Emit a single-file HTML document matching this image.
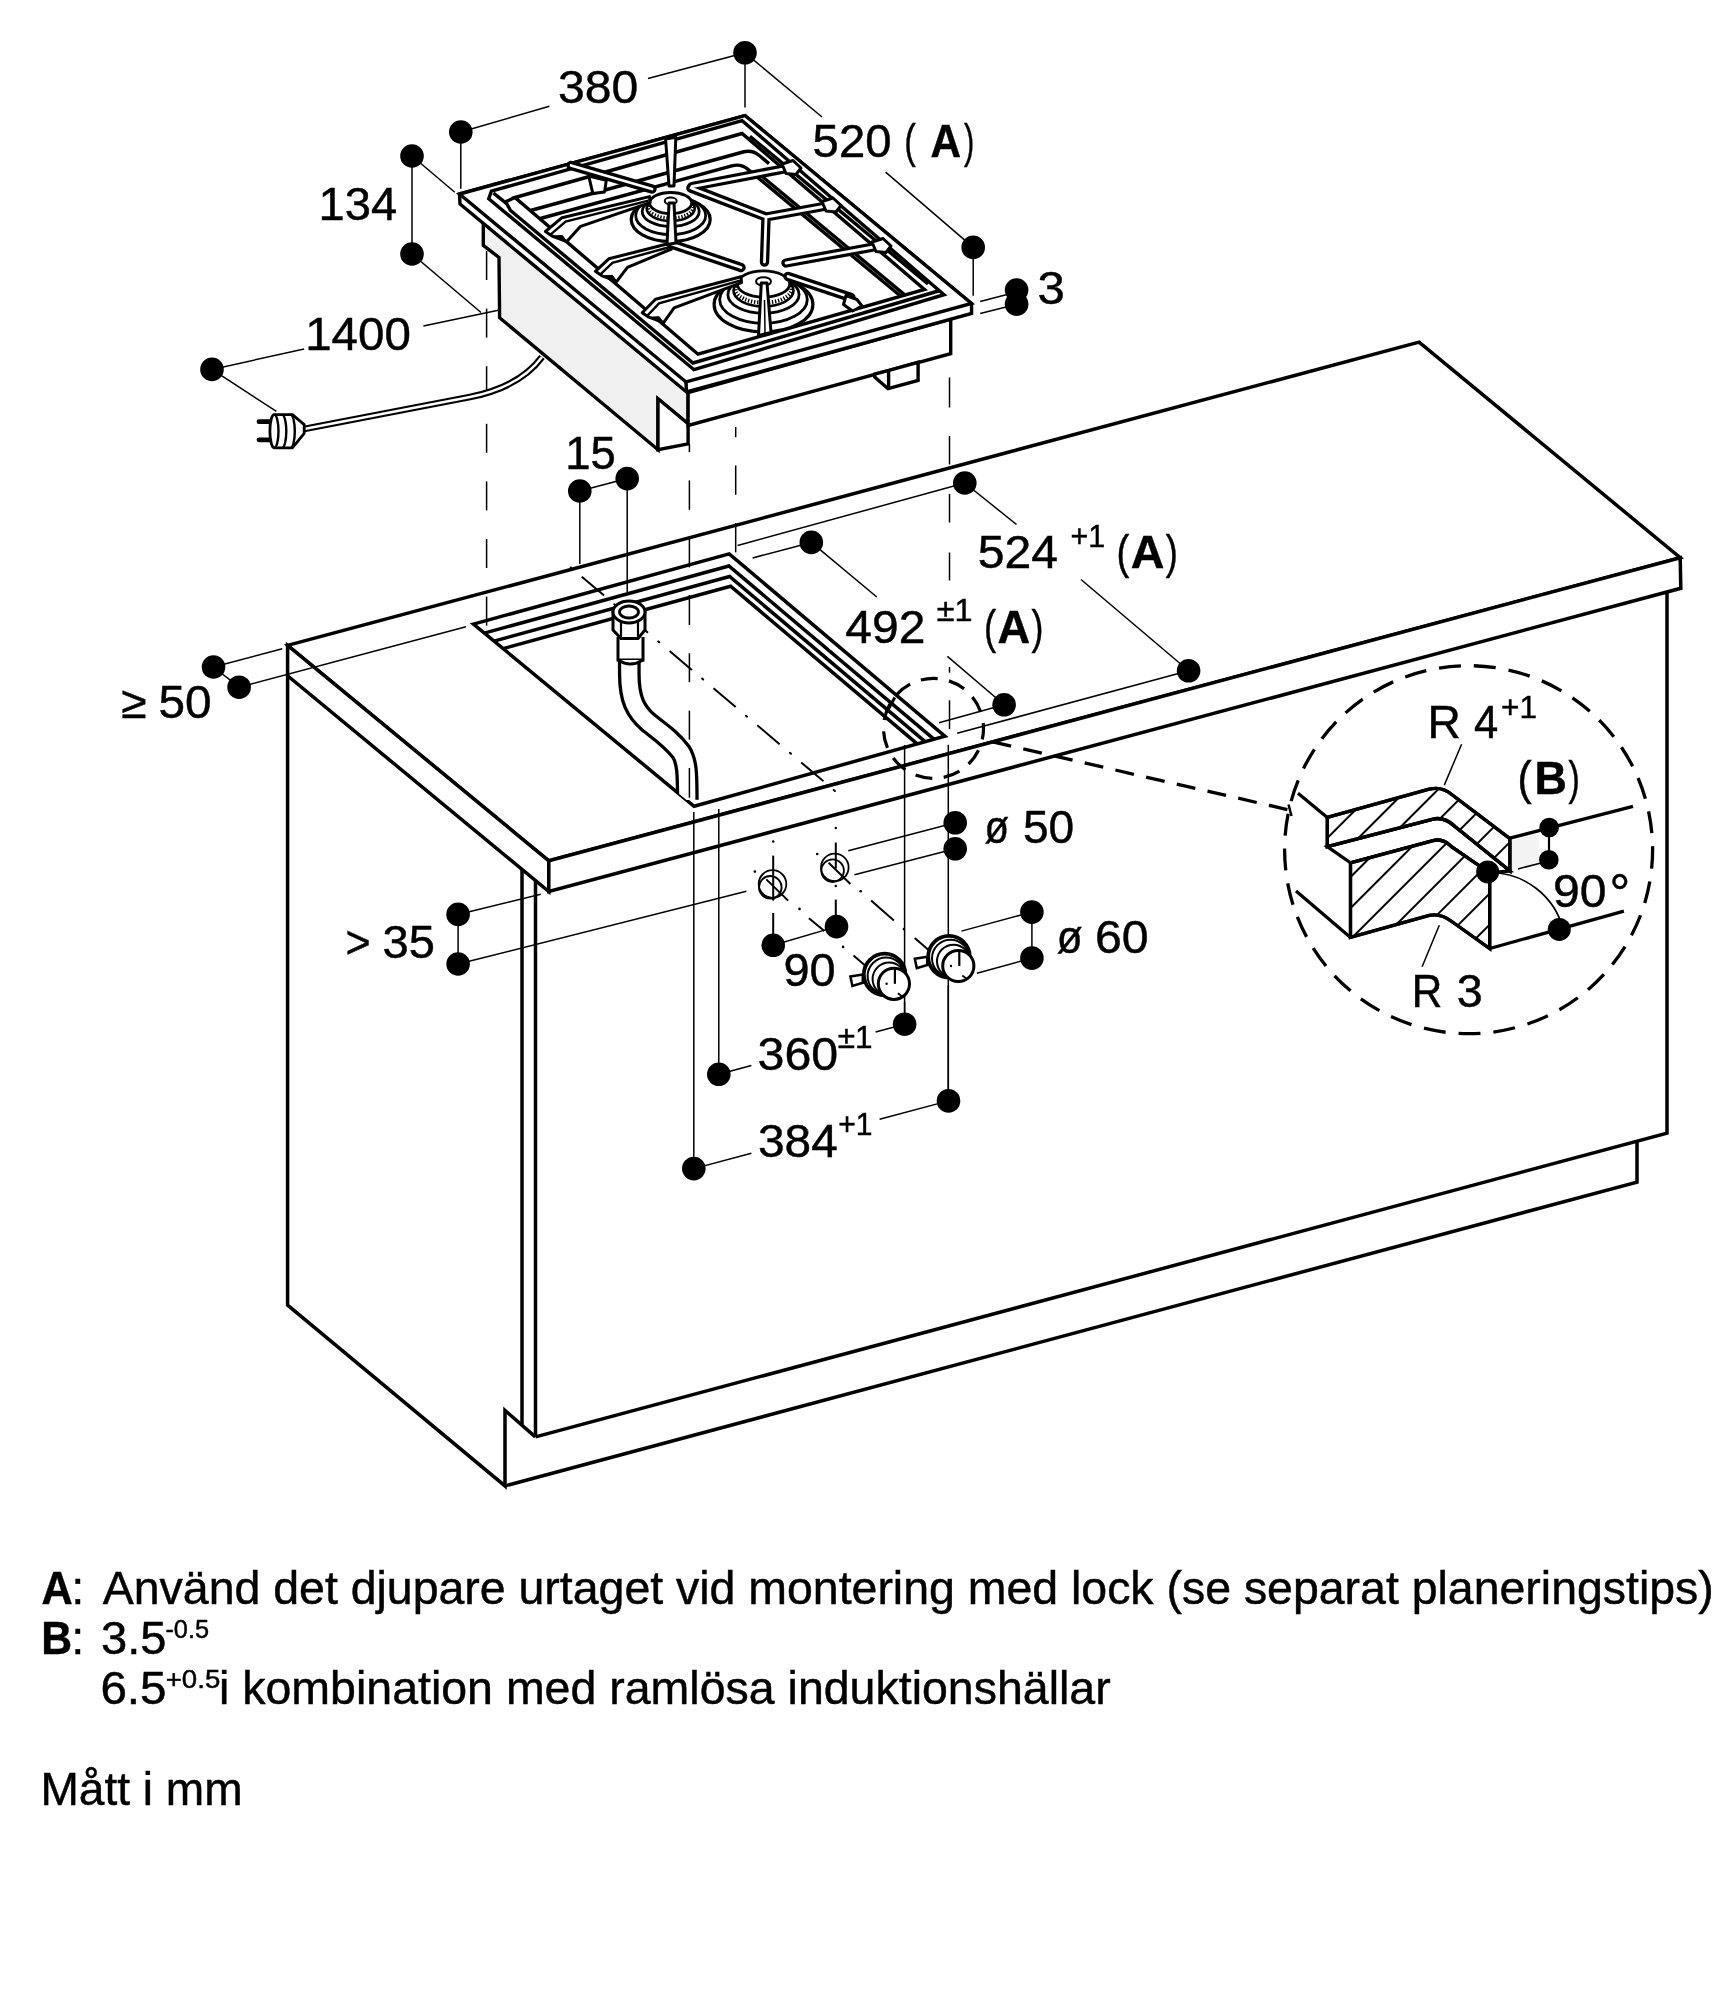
<!DOCTYPE html>
<html><head><meta charset="utf-8"><title>Måttskiss</title>
<style>
html,body{margin:0;padding:0;background:#fff}
svg{display:block;filter:grayscale(1)}
text{font-family:"Liberation Sans",sans-serif}
</style></head><body>
<svg width="1735" height="2000" viewBox="0 0 1735 2000" stroke="#000" fill="none" stroke-linecap="butt" stroke-linejoin="miter">
<rect x="0" y="0" width="1735" height="2000" fill="#fff" stroke="none"/>
<polygon points="287.6,645.4 1419.1,342.1 1680.2,557.7 548.8,860.8" fill="#fff" stroke-width="3.5" stroke-linejoin="miter"/>
<polygon points="287.6,645.4 287.6,675.8 548.8,891.5 548.8,860.8" fill="#fff" stroke-width="3.5" />
<polygon points="548.8,860.8 548.8,891.5 1680.8,588.3 1680.2,557.7" fill="#fff" stroke-width="3.5" />
<polyline points="287.6,675.8 287.6,1305.2 505,1485.9 505,1410.4 535.3,1436.9" fill="none" stroke-width="3.5" />
<line x1="522" y1="869.5" x2="522" y2="1424.5" stroke-width="3.5" />
<line x1="535.5" y1="881" x2="535.5" y2="1436.9" stroke-width="3.5" />
<polyline points="535.5,1436.9 1667,1133.1 1667,592" fill="none" stroke-width="3.5" />
<polyline points="505,1485.9 1637,1182.1 1637,1141.5" fill="none" stroke-width="3.5" />
<polygon points="473.4,624.1 729.2,553.9 944.9,736.1 694.1,806.3" fill="#fff" stroke-width="3.5" />
<polyline points="484.3,633.1 728.9,566 933.9,739.2" fill="none" stroke-width="3.5" />
<polyline points="494,641.1 729.6,576.5 925.1,741.6" fill="none" stroke-width="3.5" />
<polyline points="503.1,648.6 730.6,586.2 917.2,743.8" fill="none" stroke-width="3.5" />
<line x1="581.8" y1="576.7" x2="604.1" y2="595.6" stroke-width="2" />
<line x1="614.3" y1="604.2" x2="615.5" y2="605.2" stroke-width="2" stroke-linecap="round"/>
<line x1="625.7" y1="613.9" x2="648" y2="632.7" stroke-width="2" />
<line x1="658.2" y1="641.4" x2="659.3" y2="642.3" stroke-width="2" stroke-linecap="round"/>
<line x1="669.6" y1="651" x2="691.9" y2="669.9" stroke-width="2" />
<line x1="702.1" y1="678.5" x2="703.2" y2="679.5" stroke-width="2" stroke-linecap="round"/>
<line x1="713.5" y1="688.2" x2="735.7" y2="707" stroke-width="2" />
<line x1="746" y1="715.7" x2="747.1" y2="716.7" stroke-width="2" stroke-linecap="round"/>
<line x1="757.3" y1="725.3" x2="779.6" y2="744.2" stroke-width="2" />
<line x1="789.9" y1="752.8" x2="791" y2="753.8" stroke-width="2" stroke-linecap="round"/>
<line x1="801.2" y1="762.5" x2="823.5" y2="781.3" stroke-width="2" />
<line x1="833.7" y1="790" x2="834.9" y2="791" stroke-width="2" stroke-linecap="round"/>
<circle cx="571" cy="567.6" r="1.2" fill="#000" stroke="none"/>
<line x1="886.5" y1="712.5" x2="894.8" y2="697.5" stroke-width="3" />
<clipPath id="cpipe"><polygon points="560,560 760,560 760,790 734.1,795.3 694.1,806.3 654.1,773.3 560,700"/></clipPath>
<g clip-path="url(#cpipe)">
<path d="M629.3,640 L629.3,672 C629,700 636,712 649,723 C662,733 672,740 681,752 C688,763 687,780 687.3,800" fill="none" stroke-width="22.8" />
<path d="M629.3,640 L629.3,672 C629,700 636,712 649,723 C662,733 672,740 681,752 C688,763 687,780 687.3,800" fill="none" stroke-width="16.2" stroke="#fff"/>
</g>
<polyline points="618,637 618,660 643,660 643,637" fill="#fff" stroke-width="3" />
<path d="M618,660 Q630.5,668 643,660" fill="#fff" stroke-width="3" />
<polygon points="613,612 613,630 621,638.5 638,638.5 645,630 645,612" fill="#fff" stroke-width="3" />
<line x1="621" y1="621" x2="621" y2="638.5" stroke-width="2.2" />
<line x1="638" y1="621" x2="638" y2="638.5" stroke-width="2.2" />
<ellipse cx="629" cy="612" rx="16" ry="11" fill="#fff" stroke-width="3" />
<ellipse cx="629" cy="612" rx="9.5" ry="6" fill="#fff" stroke-width="2.8" />
<line x1="486.6" y1="251" x2="486.6" y2="280" stroke-width="1.5" />
<line x1="486.6" y1="308.6" x2="486.6" y2="337.6" stroke-width="1.5" />
<line x1="486.6" y1="366.2" x2="486.6" y2="395.2" stroke-width="1.5" />
<line x1="486.6" y1="423.8" x2="486.6" y2="452.8" stroke-width="1.5" />
<line x1="486.6" y1="481.4" x2="486.6" y2="510.4" stroke-width="1.5" />
<line x1="486.6" y1="539" x2="486.6" y2="568" stroke-width="1.5" />
<line x1="486.6" y1="596.6" x2="486.6" y2="625.6" stroke-width="1.5" />
<line x1="689.4" y1="444" x2="689.4" y2="452.2" stroke-width="1.5" />
<line x1="689.4" y1="480.4" x2="689.4" y2="509.8" stroke-width="1.5" />
<line x1="689.4" y1="537.4" x2="689.4" y2="567.4" stroke-width="1.5" />
<line x1="689.4" y1="595" x2="689.4" y2="625" stroke-width="1.5" />
<line x1="689.4" y1="653.2" x2="689.4" y2="682.2" stroke-width="1.5" />
<line x1="689.4" y1="710.6" x2="689.4" y2="739.6" stroke-width="1.5" />
<line x1="689.4" y1="768" x2="689.4" y2="797.7" stroke-width="1.5" />
<line x1="735.7" y1="427" x2="735.7" y2="437.2" stroke-width="1.5" />
<line x1="735.7" y1="465.4" x2="735.7" y2="494.8" stroke-width="1.5" />
<line x1="735.7" y1="523" x2="735.7" y2="552.4" stroke-width="1.5" />
<line x1="949.5" y1="377.5" x2="949.5" y2="407.5" stroke-width="1.5" />
<line x1="949.5" y1="436" x2="949.5" y2="464.5" stroke-width="1.5" />
<line x1="949.5" y1="494" x2="949.5" y2="522.5" stroke-width="1.5" />
<line x1="949.5" y1="552.5" x2="949.5" y2="580.5" stroke-width="1.5" />
<line x1="949.5" y1="667" x2="949.5" y2="672.7" stroke-width="1.5" />
<line x1="949.5" y1="700.3" x2="949.5" y2="729.2" stroke-width="1.5" />
<path d="M304,429 L470,397 C500,391 525,380 542,357" fill="none" stroke-width="6.8" />
<path d="M304,429 L470,397 C500,391 525,380 542,357" fill="none" stroke-width="2.4" stroke="#fff"/>
<line x1="259" y1="421.7" x2="276" y2="421.7" stroke-width="4.8" stroke-linecap="round"/>
<line x1="259" y1="439.8" x2="276" y2="439.8" stroke-width="4.8" stroke-linecap="round"/>
<path d="M274.2,414.6 L292.4,414.6 L304.2,424.6 L304.2,433.4 L292.4,447.8 L274.2,447.8 A4.3,16.6 0 0 1 274.2,414.6 Z" fill="#fff" stroke-width="2.8" stroke-linejoin="round"/>
<path d="M274.2,414.6 A4.3,16.6 0 0 1 274.2,447.8" fill="none" stroke-width="2.4" />
<path d="M282,414.6 A4.3,16.6 0 0 1 282,447.8" fill="none" stroke-width="2.4" />
<path d="M290.5,414.6 A4.3,16.6 0 0 1 290.5,447.8" fill="none" stroke-width="2.4" />
<polygon points="483.3,222.5 483.3,245.3 499,257.5 499.6,317.7 658,449.7 658,398.8 688.1,423.8 688.1,392.5" fill="#f0f0f0" stroke-width="3.4" />
<polygon points="658,398.8 688.1,423.8 688.1,443.9 658,449.7" fill="#fff" stroke-width="3.4" />
<polygon points="688.1,392.5 688.1,425.5 950.7,353.6 950.7,319" fill="#fff" stroke-width="3.4" />
<polygon points="874.7,374 874.7,377 888,388.7 918.1,380.4 918.1,362.3 888.9,370.4" fill="#fff" stroke-width="3.4" />
<line x1="888.6" y1="370.4" x2="888.6" y2="388.7" stroke-width="3.4" />
<polygon points="459.5,194 460,204 686.5,392 971.6,313.5 971.5,303.5 745,115.5" fill="#fff" stroke-width="3.4" />
<polygon points="459.5,194 745,115.5 971.5,303.5 686,382" fill="#fff" stroke-width="3.4" />
<line x1="686" y1="382" x2="686.5" y2="392" stroke-width="3.4" />
<polygon points="488.7,198.7 491.4,191.1 742.1,120.6 944,294.7 694,369.7" fill="#fff" stroke-width="3.4" />
<polyline points="493.5,193.1 506.7,203.7 510.5,210.5 693,363 940,290.5" fill="none" stroke-width="3.4" />
<polygon points="515,197.5 742,133.5 924.5,289.5 698,354.2" fill="#fff" stroke-width="3.4" />
<line x1="505.5" y1="201.8" x2="515" y2="197.5" stroke-width="3.4" />
<path d="M530.6,210.5 L743,152 Q752,149.6 759,155.3 L769,163.6" fill="none" stroke-width="3.4" />
<line x1="762.2" y1="176.5" x2="905" y2="295.1" stroke-width="3.4" />
<path d="M540.3,218.5 L731.7,165.9 Q740.7,163.4 747.6,169.1 L900.8,296.3" fill="none" stroke-width="3.4" />
<line x1="749.9" y1="136.2" x2="928" y2="284" stroke-width="3.4" />
<ellipse cx="670.7" cy="219.5" rx="39.5" ry="22" fill="#fff" stroke-width="3.2" />
<ellipse cx="670.7" cy="215.5" rx="35" ry="19" fill="#fff" stroke-width="2.8" />
<ellipse cx="670.7" cy="211.5" rx="28.5" ry="15" fill="#fff" stroke-width="2.8" />
<ellipse cx="670.7" cy="208.5" rx="24" ry="12.5" fill="#fff" stroke-width="2.6" />
<ellipse cx="670.7" cy="207" rx="22.5" ry="11" fill="none" stroke-width="3.2" stroke-dasharray="1.3 1.7"/>
<ellipse cx="670.7" cy="203" rx="21" ry="10.5" fill="#fff" stroke-width="2.8" />
<ellipse cx="670.7" cy="201" rx="6" ry="3.4" fill="#fff" stroke-width="2" />
<ellipse cx="763.5" cy="304.5" rx="49.4" ry="27.5" fill="#fff" stroke-width="3.2" />
<ellipse cx="763.5" cy="299.5" rx="43.8" ry="23.8" fill="#fff" stroke-width="2.8" />
<ellipse cx="763.5" cy="294.5" rx="35.6" ry="18.8" fill="#fff" stroke-width="2.8" />
<ellipse cx="763.5" cy="290.8" rx="30" ry="15.6" fill="#fff" stroke-width="2.6" />
<ellipse cx="763.5" cy="288.9" rx="28.1" ry="13.8" fill="none" stroke-width="4" stroke-dasharray="1.3 1.7"/>
<ellipse cx="763.5" cy="283.9" rx="26.2" ry="13.1" fill="#fff" stroke-width="2.8" />
<ellipse cx="763.5" cy="281.4" rx="7.5" ry="4.2" fill="#fff" stroke-width="2" />
<polygon points="545.4,231.5 562,217.7 649.5,196.6 650,202.6 580.6,226.3 566.8,241.5 552,236" fill="#fff" stroke-width="3" stroke-linejoin="round"/>
<polyline points="550.2,234.9 565.6,221.7 648.5,200.6" fill="none" stroke-width="2.4" />
<polygon points="553.4,236 566.8,241.5 562.4,235.5" fill="#000" stroke-width="1" />
<polygon points="595.4,271.3 608.8,258.8 671,243 671.5,249 627.4,267.4 616.8,281.3 602,275.8" fill="#fff" stroke-width="3" stroke-linejoin="round"/>
<polyline points="600.2,274.7 612.4,262.8 670,247" fill="none" stroke-width="2.4" />
<polygon points="603.4,275.8 616.8,281.3 612.4,275.3" fill="#000" stroke-width="1" />
<polygon points="642.2,312.7 655.5,299.3 741,276.7 741.5,282.7 674.1,307.9 663.6,322.7 648.8,317.2" fill="#fff" stroke-width="3" stroke-linejoin="round"/>
<polyline points="647,316.1 659.1,303.3 740,280.7" fill="none" stroke-width="2.4" />
<polygon points="650.2,317.2 663.6,322.7 659.2,316.7" fill="#000" stroke-width="1" />
<polygon points="588.7,176 592.9,193.6 604.6,191.9 606.3,180.2" fill="#fff" stroke-width="3" stroke-linejoin="round"/>
<path d="M571,165.5 L652,189" fill="none" stroke-width="9.4" stroke-linecap="round" stroke-linejoin="round"/>
<path d="M691,188 L766,217 M766,217 L829,205.5 M766,218 L764.5,262" fill="none" stroke-width="9.4" stroke-linecap="round" stroke-linejoin="round"/>
<path d="M692,186.5 L789,168" fill="none" stroke-width="9.4" stroke-linecap="round" stroke-linejoin="round"/>
<path d="M671.5,244 L741,267.5" fill="none" stroke-width="9.4" stroke-linecap="round" stroke-linejoin="round"/>
<path d="M786,263 L879,246" fill="none" stroke-width="9.4" stroke-linecap="round" stroke-linejoin="round"/>
<path d="M788,276.5 L851,297.5" fill="none" stroke-width="9.4" stroke-linecap="round" stroke-linejoin="round"/>
<path d="M571,165.5 L652,189" fill="none" stroke-width="2.8" stroke="#fff" stroke-linecap="round" stroke-linejoin="round"/>
<path d="M691,188 L766,217 M766,217 L829,205.5 M766,218 L764.5,262" fill="none" stroke-width="2.8" stroke="#fff" stroke-linecap="round" stroke-linejoin="round"/>
<path d="M692,186.5 L789,168" fill="none" stroke-width="2.8" stroke="#fff" stroke-linecap="round" stroke-linejoin="round"/>
<path d="M671.5,244 L741,267.5" fill="none" stroke-width="2.8" stroke="#fff" stroke-linecap="round" stroke-linejoin="round"/>
<path d="M786,263 L879,246" fill="none" stroke-width="2.8" stroke="#fff" stroke-linecap="round" stroke-linejoin="round"/>
<path d="M788,276.5 L851,297.5" fill="none" stroke-width="2.8" stroke="#fff" stroke-linecap="round" stroke-linejoin="round"/>
<polygon points="665.6,139 675.8,137.2 674,186 669,186" fill="#fff" stroke-width="3" stroke-linejoin="round"/>
<polygon points="669,203 674,203 676,243 667,244.5" fill="#fff" stroke-width="3" stroke-linejoin="round"/>
<polygon points="761.3,283 767,283 771,332.5 758.5,335.5" fill="#fff" stroke-width="3" stroke-linejoin="round"/>
<line x1="764.5" y1="300" x2="765" y2="333" stroke-width="1.5" />
<polygon points="782,164 793,160.5 801,168 796,174.5 786,173.5" fill="#fff" stroke-width="3" stroke-linejoin="round"/>
<polygon points="822,201.5 833,198 841,205.5 836,212 826,211" fill="#fff" stroke-width="3" stroke-linejoin="round"/>
<polygon points="872,242 883,238.5 891,246 886,252.5 876,251.5" fill="#fff" stroke-width="3" stroke-linejoin="round"/>
<polygon points="846,295.5 857,299.5 862,306 852.5,311 843.5,304.5" fill="#fff" stroke-width="3" stroke-linejoin="round"/>
<circle cx="460.8" cy="132" r="11.8" fill="#000" stroke="none"/>
<circle cx="745" cy="52.8" r="11.8" fill="#000" stroke="none"/>
<line x1="460.8" y1="132" x2="549.4" y2="106.3" stroke-width="1.5" />
<line x1="648" y1="78.5" x2="745" y2="52.8" stroke-width="1.5" />
<line x1="460.8" y1="132" x2="460.8" y2="188.8" stroke-width="1.5" />
<line x1="745" y1="52.8" x2="745" y2="107.6" stroke-width="1.5" />
<line x1="745" y1="52.8" x2="822" y2="117" stroke-width="1.5" />
<line x1="885.6" y1="172.1" x2="973.2" y2="247.4" stroke-width="1.5" />
<circle cx="973.2" cy="247.4" r="11.8" fill="#000" stroke="none"/>
<line x1="973.2" y1="247.4" x2="973.2" y2="295.8" stroke-width="1.5" />
<circle cx="1016.6" cy="290.1" r="11.8" fill="#000" stroke="none"/>
<circle cx="1016.6" cy="304.2" r="11.8" fill="#000" stroke="none"/>
<line x1="980.2" y1="301.5" x2="1008" y2="294.3" stroke-width="1.5" />
<line x1="980.2" y1="313.5" x2="1008" y2="306.5" stroke-width="1.5" />
<circle cx="412" cy="156" r="11.8" fill="#000" stroke="none"/>
<circle cx="412" cy="254" r="11.8" fill="#000" stroke="none"/>
<line x1="412" y1="156" x2="412" y2="254" stroke-width="1.5" />
<line x1="412" y1="156" x2="454.8" y2="192.2" stroke-width="1.5" />
<line x1="412" y1="254" x2="481" y2="312.5" stroke-width="1.5" />
<line x1="498.3" y1="310.2" x2="423.4" y2="326" stroke-width="1.5" />
<line x1="304.1" y1="349" x2="212" y2="369.4" stroke-width="1.5" />
<circle cx="212" cy="369.4" r="11.8" fill="#000" stroke="none"/>
<line x1="212" y1="369.4" x2="276.4" y2="411.4" stroke-width="1.5" />
<circle cx="579.8" cy="491" r="11.8" fill="#000" stroke="none"/>
<circle cx="627.2" cy="478.6" r="11.8" fill="#000" stroke="none"/>
<line x1="579.8" y1="491" x2="627.2" y2="478.6" stroke-width="1.5" />
<line x1="579.8" y1="491" x2="579.8" y2="563.9" stroke-width="1.5" />
<line x1="627.2" y1="478.6" x2="627.2" y2="592.3" stroke-width="1.5" />
<circle cx="213.5" cy="667" r="11.8" fill="#000" stroke="none"/>
<circle cx="239.1" cy="687.2" r="11.8" fill="#000" stroke="none"/>
<line x1="213.5" y1="667" x2="239.1" y2="687.2" stroke-width="1.5" />
<line x1="213.5" y1="667" x2="282.3" y2="648.7" stroke-width="1.5" />
<line x1="239.1" y1="687.2" x2="466" y2="626.8" stroke-width="1.5" />
<circle cx="964.8" cy="483" r="11.8" fill="#000" stroke="none"/>
<line x1="737.6" y1="545.5" x2="964.8" y2="483" stroke-width="1.5" />
<line x1="964.8" y1="483" x2="1016.5" y2="524.5" stroke-width="1.5" />
<line x1="1081" y1="579.5" x2="1188.6" y2="670.8" stroke-width="1.5" />
<circle cx="1188.6" cy="670.8" r="11.8" fill="#000" stroke="none"/>
<line x1="1188.6" y1="670.8" x2="957.1" y2="733.3" stroke-width="1.5" />
<circle cx="811.3" cy="542.4" r="11.8" fill="#000" stroke="none"/>
<line x1="752.6" y1="557.9" x2="811.3" y2="542.4" stroke-width="1.5" />
<line x1="811.3" y1="542.4" x2="876.8" y2="597" stroke-width="1.5" />
<line x1="947.4" y1="656.4" x2="1004.1" y2="704.8" stroke-width="1.5" />
<circle cx="1004.1" cy="704.8" r="11.8" fill="#000" stroke="none"/>
<line x1="1004.1" y1="704.8" x2="939" y2="722.8" stroke-width="1.5" />
<circle cx="458.1" cy="914.4" r="11.8" fill="#000" stroke="none"/>
<circle cx="458.1" cy="964" r="11.8" fill="#000" stroke="none"/>
<line x1="458.1" y1="914.4" x2="458.1" y2="964" stroke-width="1.5" />
<line x1="458.1" y1="914.4" x2="540.8" y2="894.3" stroke-width="1.5" />
<line x1="458.1" y1="964" x2="746.4" y2="891.3" stroke-width="1.5" />
<circle cx="955.2" cy="822.8" r="11.8" fill="#000" stroke="none"/>
<circle cx="955.2" cy="848.8" r="11.8" fill="#000" stroke="none"/>
<line x1="848.3" y1="850.8" x2="955.2" y2="822.8" stroke-width="1.5" />
<line x1="854.5" y1="874.7" x2="955.2" y2="848.8" stroke-width="1.5" />
<circle cx="773.2" cy="945.3" r="11.8" fill="#000" stroke="none"/>
<circle cx="836.5" cy="926.6" r="11.8" fill="#000" stroke="none"/>
<line x1="773.2" y1="945.3" x2="836.5" y2="926.6" stroke-width="1.5" />
<line x1="773.2" y1="855.6" x2="773.2" y2="899.6" stroke-width="2" />
<line x1="773.2" y1="913" x2="773.2" y2="945.3" stroke-width="2" />
<line x1="835.8" y1="842.5" x2="835.8" y2="868.5" stroke-width="2" />
<line x1="835.8" y1="899.6" x2="835.8" y2="926.6" stroke-width="2" />
<circle cx="1031.9" cy="912.1" r="11.8" fill="#000" stroke="none"/>
<circle cx="1031.9" cy="958.1" r="11.8" fill="#000" stroke="none"/>
<line x1="1031.9" y1="912.1" x2="1031.9" y2="958.1" stroke-width="1.5" />
<line x1="961.4" y1="931.1" x2="1031.9" y2="912.1" stroke-width="1.5" />
<line x1="976.9" y1="973.3" x2="1031.9" y2="958.1" stroke-width="1.5" />
<circle cx="904.6" cy="1024.2" r="11.8" fill="#000" stroke="none"/>
<circle cx="718.8" cy="1074.3" r="11.8" fill="#000" stroke="none"/>
<line x1="718.8" y1="809" x2="718.8" y2="1074.3" stroke-width="1.5" />
<line x1="904.6" y1="745" x2="904.6" y2="1024.2" stroke-width="1.5" />
<line x1="718.8" y1="1074.3" x2="751.4" y2="1065.5" stroke-width="1.5" />
<line x1="875.6" y1="1032" x2="904.6" y2="1024.2" stroke-width="1.5" />
<circle cx="948.5" cy="1100.9" r="11.8" fill="#000" stroke="none"/>
<circle cx="693.8" cy="1168.6" r="11.8" fill="#000" stroke="none"/>
<line x1="693.8" y1="812" x2="693.8" y2="1168.6" stroke-width="1.5" />
<line x1="948.3" y1="744.7" x2="948.3" y2="1100.9" stroke-width="1.5" />
<line x1="693.8" y1="1168.6" x2="751.4" y2="1153.3" stroke-width="1.5" />
<line x1="879.6" y1="1119.3" x2="948.5" y2="1100.9" stroke-width="1.5" />
<circle cx="772.5" cy="884" r="13.8" fill="none" stroke-width="1.8"/>
<circle cx="770.3" cy="887.3" r="11.3" fill="none" stroke-width="1.8"/>
<line x1="766.3" y1="879.4" x2="788.1" y2="900.6" stroke-width="2" />
<circle cx="834.8" cy="867.4" r="13.8" fill="none" stroke-width="1.8"/>
<circle cx="832.5999999999999" cy="870.6999999999999" r="11.3" fill="none" stroke-width="1.8"/>
<line x1="828.6" y1="862.8" x2="850.4" y2="884" stroke-width="2" />
<circle cx="754.9" cy="871.6" r="1.3" fill="#000" stroke="none"/>
<circle cx="799.5" cy="908.9" r="1.3" fill="#000" stroke="none"/>
<circle cx="843.1" cy="946.9" r="1.3" fill="#000" stroke="none"/>
<circle cx="817.2" cy="854" r="1.3" fill="#000" stroke="none"/>
<circle cx="860.7" cy="891.3" r="1.3" fill="#000" stroke="none"/>
<circle cx="903.9" cy="929.1" r="1.3" fill="#000" stroke="none"/>
<line x1="808.9" y1="918.3" x2="824.4" y2="931.1" stroke-width="2" />
<line x1="853.5" y1="955.6" x2="875.3" y2="974.3" stroke-width="2" />
<line x1="871.1" y1="900.6" x2="893.9" y2="920.4" stroke-width="2" />
<line x1="914.7" y1="938" x2="937.5" y2="957.7" stroke-width="2" />
<circle cx="773.2" cy="841.5" r="1.2" fill="#000" stroke="none"/>
<circle cx="835.8" cy="828" r="1.2" fill="#000" stroke="none"/>
<circle cx="835.8" cy="886" r="1.2" fill="#000" stroke="none"/>
<circle cx="773.2" cy="899.5" r="1.2" fill="#000" stroke="none"/>
<polygon points="850.4,976.6 862.8,974.5 862.8,982.8 852.4,985.9" fill="#fff" stroke-width="2.5" />
<circle cx="884.6" cy="974.5" r="20.8" fill="#fff" stroke-width="3.8"/>
<circle cx="886.1" cy="976" r="18.5" fill="#fff" stroke-width="2"/>
<circle cx="889.1" cy="979" r="16.5" fill="#fff" stroke-width="2"/>
<circle cx="893.9" cy="983.8" r="15.6" fill="#fff" stroke-width="3"/>
<line x1="894.9" y1="968.3" x2="894.9" y2="983.8" stroke-width="2.2" />
<circle cx="886.6" cy="983.8" r="1.2" fill="#000" stroke="none"/>
<line x1="897.9" y1="993.3" x2="901.9" y2="996.3" stroke-width="1.8" />
<polygon points="914.8,958.8 927.2,956.7 927.2,965 916.8,968.1" fill="#fff" stroke-width="2.5" />
<circle cx="949" cy="956.7" r="20.8" fill="#fff" stroke-width="3.8"/>
<circle cx="950.5" cy="958.2" r="18.5" fill="#fff" stroke-width="2"/>
<circle cx="953.5" cy="961.2" r="16.5" fill="#fff" stroke-width="2"/>
<circle cx="958.3" cy="966" r="15.6" fill="#fff" stroke-width="3"/>
<line x1="959.3" y1="950.5" x2="959.3" y2="966" stroke-width="2.2" />
<circle cx="951" cy="966" r="1.2" fill="#000" stroke="none"/>
<line x1="962.3" y1="975.5" x2="966.3" y2="978.5" stroke-width="1.8" />
<line x1="904.6" y1="1002" x2="904.6" y2="1024.2" stroke-width="1.5" />
<line x1="948.3" y1="985" x2="948.3" y2="1100.9" stroke-width="1.5" />
<circle cx="933.5" cy="728.4" r="50" fill="none" stroke-width="3.2" stroke-dasharray="17 11.56" stroke-dashoffset="6"/>
<circle cx="1468.6" cy="849.7" r="184" fill="#fff" stroke-width="3.3" stroke-dasharray="22 13" stroke-dashoffset="3"/>
<line x1="992.6" y1="741.8" x2="1290.3" y2="810.2" stroke-width="3.3" stroke-dasharray="19 12.5"/>
<line x1="1288.5" y1="804.5" x2="1291.5" y2="816" stroke-width="2.5" />
<defs><pattern id="hat" width="22" height="22" patternUnits="userSpaceOnUse" patternTransform="translate(3 0) rotate(-45)"><line x1="0" y1="11" x2="22" y2="11" stroke="#000" stroke-width="2"/></pattern></defs>
<path d="M1327.3,846.7 L1432,819.3 Q1444,816 1455,826.5 L1509.9,870.9 L1489.7,873 L1451.4,846.7 Q1443,838 1433.2,840.6 L1350.5,862.8 Z" fill="#fff" stroke-width="3.3" />
<path d="M1327.3,817.4 L1429.2,789.2 Q1441.5,786 1451.4,794.2 L1509.9,838.6 L1509.9,870.9 L1455,826.5 Q1444,816 1432,819.3 L1327.3,846.7 Z" fill="#fff" stroke-width="3.3" />
<path d="M1327.3,817.4 L1429.2,789.2 Q1441.5,786 1451.4,794.2 L1509.9,838.6 L1509.9,870.9 L1455,826.5 Q1444,816 1432,819.3 L1327.3,846.7 Z" fill="url(#hat)" stroke-width="3.3" />
<path d="M1350.5,862.8 L1433.2,840.6 Q1443,838 1451.4,846.7 L1489.7,873 L1489.7,948.5 L1451.4,921.3 Q1441,913 1429.2,915.3 L1350.5,937.4 Z" fill="#fff" stroke-width="3.3" />
<path d="M1350.5,862.8 L1433.2,840.6 Q1443,838 1451.4,846.7 L1489.7,873 L1489.7,948.5 L1451.4,921.3 Q1441,913 1429.2,915.3 L1350.5,937.4 Z" fill="url(#hat)" stroke-width="3.3" />
<line x1="1298" y1="793.2" x2="1327.3" y2="817.4" stroke-width="3.3" />
<line x1="1296" y1="891" x2="1350.5" y2="937.4" stroke-width="3.3" />
<line x1="1509.9" y1="838.2" x2="1633" y2="806.3" stroke-width="3.3" />
<line x1="1489.7" y1="948.5" x2="1623.9" y2="911.2" stroke-width="3.3" />
<polygon points="1512,840.5 1539.2,833.5 1539.2,862.5 1512,869.5" fill="#f3f3f3" stroke-width="0" stroke="none"/>
<line x1="1518" y1="868.9" x2="1540.1" y2="863.2" stroke-width="1.5" />
<line x1="1549" y1="827.5" x2="1549" y2="859.8" stroke-width="2.2" />
<circle cx="1549.2" cy="827.5" r="9.8" fill="#000" stroke="none"/>
<circle cx="1548.8" cy="859.8" r="9.8" fill="#000" stroke="none"/>
<path d="M1491,872.5 A76,76 0 0 1 1563,928.5" fill="none" stroke-width="1.6" />
<circle cx="1487.7" cy="871.9" r="11.5" fill="#000" stroke="none"/>
<circle cx="1559.3" cy="929.4" r="11.5" fill="#000" stroke="none"/>
<line x1="1461.6" y1="744.3" x2="1444.3" y2="785.1" stroke-width="1.5" />
<line x1="1439.3" y1="925.3" x2="1422.1" y2="966.7" stroke-width="1.5" />
<g fill="#000" stroke="#000" stroke-width="0.45">
<text transform="translate(557.9 102.8) scale(1.058 1)" font-size="45.5">380</text>
<text transform="translate(812.6 156.8) scale(1.039 1)" font-size="45.5">520</text>
<text transform="translate(904.3 156.8) scale(0.760 1)" font-size="45.5">(</text>
<text transform="translate(930.5 156.8) scale(0.928 1)" font-size="45.5" font-weight="bold">A</text>
<text transform="translate(964 156.8) scale(0.680 1)" font-size="45.5">)</text>
<text transform="translate(318.6 219.9) scale(1.034 1)" font-size="45.5">134</text>
<text transform="translate(305.2 350.3) scale(1.044 1)" font-size="45.5">1400</text>
<text transform="translate(1037.6 304) scale(1.078 1)" font-size="45.5">3</text>
<text transform="translate(565.3 468.6) scale(0.998 1)" font-size="45.5">15</text>
<text transform="translate(121.6 718.3) scale(1.014 1)" font-size="45.5">≥</text>
<text transform="translate(158.5 718.3) scale(1.049 1)" font-size="45.5">50</text>
<text transform="translate(977.8 567.9) scale(1.058 1)" font-size="45.5">524</text>
<text transform="translate(1070.5 546.5) scale(0.967 1)" font-size="31.5">+1</text>
<text transform="translate(1116.5 567.9) scale(0.843 1)" font-size="45.5">(</text>
<text transform="translate(1130.8 567.9) scale(1.023 1)" font-size="45.5" font-weight="bold">A</text>
<text transform="translate(1165.7 567.9) scale(0.795 1)" font-size="45.5">)</text>
<text transform="translate(845.3 642.6) scale(1.054 1)" font-size="45.5">492</text>
<text transform="translate(936.7 620.5) scale(1.028 1)" font-size="31.5">±1</text>
<text transform="translate(983.9 642.6) scale(0.802 1)" font-size="45.5">(</text>
<text transform="translate(997.5 642.6) scale(0.993 1)" font-size="45.5" font-weight="bold">A</text>
<text transform="translate(1031.6 642.6) scale(0.787 1)" font-size="45.5">)</text>
<text transform="translate(984.4 842.5) scale(0.880 1)" font-size="45.5">ø</text>
<text transform="translate(1022.9 842.5) scale(1.013 1)" font-size="45.5">50</text>
<text transform="translate(345.4 958) scale(0.946 1)" font-size="45.5">&gt;</text>
<text transform="translate(382.6 958) scale(1.034 1)" font-size="45.5">35</text>
<text transform="translate(783.4 985.7) scale(1.030 1)" font-size="45.5">90</text>
<text transform="translate(1056.8 952.6) scale(0.927 1)" font-size="45.5">ø</text>
<text transform="translate(1095 952.6) scale(1.060 1)" font-size="45.5">60</text>
<text transform="translate(757.6 1070) scale(1.062 1)" font-size="45.5">360</text>
<text transform="translate(837.7 1048.3) scale(1.000 1)" font-size="31.5">±1</text>
<text transform="translate(758 1156.7) scale(1.051 1)" font-size="45.5">384</text>
<text transform="translate(838.2 1134.5) scale(0.954 1)" font-size="31.5">+1</text>
<text transform="translate(1427.4 738.1) scale(1.015 1)" font-size="45.5">R</text>
<text transform="translate(1474.1 738.1) scale(0.957 1)" font-size="45.5">4</text>
<text transform="translate(1501.1 717.5) scale(1.000 1)" font-size="31.5">+1</text>
<text transform="translate(1517.6 793.7) scale(0.934 1)" font-size="45.5">(</text>
<text transform="translate(1534.4 793.7) scale(0.986 1)" font-size="45.5" font-weight="bold">B</text>
<text transform="translate(1568.4 793.7) scale(0.746 1)" font-size="45.5">)</text>
<text transform="translate(1553.1 907.2) scale(1.056 1)" font-size="45.5">90</text>
<text transform="translate(1609.2 912) scale(0.987 1)" font-size="53.6">°</text>
<text transform="translate(1411.7 1007) scale(0.930 1)" font-size="45.5">R</text>
<text transform="translate(1456.7 1007) scale(1.023 1)" font-size="45.5">3</text>
<text transform="translate(41.6 1604.1) scale(0.951 1)" font-size="45.5" font-weight="bold">A</text>
<text transform="translate(71.5 1604.1) scale(1.000 1)" font-size="45.5">:</text>
<text transform="translate(102.8 1604.1) scale(1.021 1)" font-size="45.5">Använd det djupare urtaget vid montering med lock (se separat planeringstips)</text>
<text transform="translate(41.3 1654.3) scale(0.939 1)" font-size="45.5" font-weight="bold">B</text>
<text transform="translate(71.5 1654.3) scale(1.000 1)" font-size="45.5">:</text>
<text transform="translate(101 1654.3) scale(1.035 1)" font-size="45.5">3.5</text>
<text transform="translate(165.4 1637.7) scale(1.015 1)" font-size="25">-0.5</text>
<text transform="translate(100.4 1704.4) scale(1.046 1)" font-size="45.5">6.5</text>
<text transform="translate(165.7 1687.9) scale(1.106 1)" font-size="25">+0.5</text>
<text transform="translate(219 1704.4) scale(1.022 1)" font-size="45.5">i kombination med ramlösa induktionshällar</text>
<text transform="translate(40.4 1804.7) scale(1.013 1)" font-size="45.5">Mått i mm</text>
</g>
</svg>
</body></html>
